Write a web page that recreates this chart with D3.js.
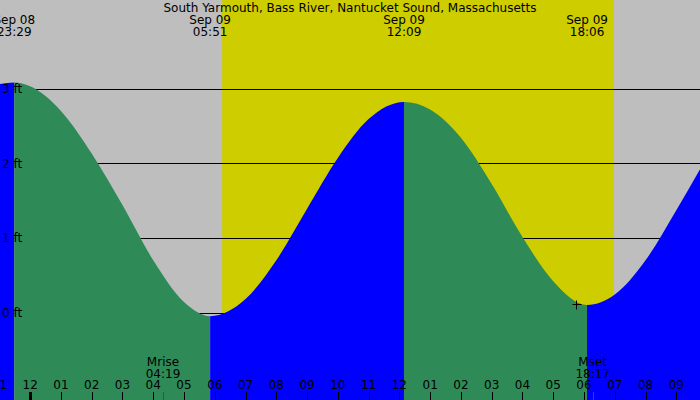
<!DOCTYPE html>
<html>
<head>
<meta charset="utf-8">
<script src="https://cdn.jsdelivr.net/npm/d3@7"></script>
<style>
body { margin: 0; background: #fff; }
svg { display: block; }
text { font-family: "DejaVu Sans", sans-serif; font-size: 12px; fill: #000; }
</style>
</head>
<body>
<svg id="chart" width="700" height="400"></svg>
<script>
// hours counted from Sep 09 00:00 (negative = Sep 08)
var tideHours = [-0.98, -0.517, 0, 1, 2, 3, 4, 5, 5.85, 7, 8, 9, 10, 11, 12.15, 13, 14, 15, 16, 17, 18.10, 19, 20, 21, 21.77];
var tideFeet  = [3.06, 3.08, 3.03, 2.70, 2.13, 1.44, 0.70, 0.14, -0.05, 0.18, 0.70, 1.39, 2.07, 2.59, 2.82, 2.72, 2.34, 1.72, 1.01, 0.42, 0.10, 0.24, 0.70, 1.37, 1.92];

// high / low tide times shown at the top
var extremeHours = [-0.517, 5.85, 12.15, 18.10];
var extremeDays  = ["Sep 08", "Sep 09", "Sep 09", "Sep 09"];
var extremeTimes = ["23:29", "05:51", "12:09", "18:06"];

var dayStart = 6.24, dayEnd = 18.97;

var moonHours  = [4.317, 18.283];
var moonNames  = ["Mrise", "Mset"];
var moonTimes  = ["04:19", "18:17"];

var footTicks = [0, 1, 2, 3];
var hourTicks = d3.range(-1, 22);

var nowHour = 17.74, nowFeet = 0.12;

var title = "South Yarmouth, Bass River, Nantucket Sound, Massachusetts";

var width = 700, height = 400;
var svg = d3.select("#chart");

var x = d3.scaleLinear().domain([-0.98, 21.77]).range([0, width]);
var y = d3.scaleLinear().domain([0, 3]).range([312.5, 88.5]);

// background + daylight
svg.append("rect").attr("width", width).attr("height", height).attr("fill", "#bebebe");
svg.append("rect")
	.attr("x", x(dayStart)).attr("y", 0)
	.attr("width", x(dayEnd) - x(dayStart)).attr("height", height)
	.attr("fill", "#cdcd00");

// grid lines behind the water
svg.selectAll(".grid")
	.data(footTicks)
	.enter()
	.append("line")
		.attr("class", "grid")
		.attr("x1", 0).attr("x2", width)
		.attr("y1", d => Math.round(y(d)) + 0.5)
		.attr("y2", d => Math.round(y(d)) + 0.5)
		.attr("stroke", "#000").attr("stroke-width", 1);

var pts = tideHours.map(function(h, i) { return [h, tideFeet[i]]; });
var area = d3.area()
	.x(d => x(d[0]))
	.y0(height)
	.y1(d => y(d[1]))
	.curve(d3.curveMonotoneX);

// split into rising (blue) / falling (green) pieces at each extreme
var cuts = [-0.98].concat(extremeHours, [21.77]);
var defs = svg.append("defs");
for (var i = 0; i < cuts.length - 1; i++) {
	defs.append("clipPath").attr("id", "seg" + i)
		.append("rect")
			.attr("x", x(cuts[i])).attr("y", 0)
			.attr("width", x(cuts[i + 1]) - x(cuts[i])).attr("height", height);
	svg.append("path")
		.datum(pts)
		.attr("d", area)
		.attr("clip-path", "url(#seg" + i + ")")
		.attr("fill", i % 2 == 0 ? "#0000ff" : "#2e8b57");
}

// foot labels
svg.selectAll(".ylab")
	.data(footTicks)
	.enter()
	.append("text")
		.attr("class", "ylab")
		.attr("x", 2)
		.attr("y", d => y(d) + 4.5)
		.text(d => d + " ft");

// title and tide times
svg.append("text")
	.attr("x", width / 2).attr("y", 12)
	.attr("text-anchor", "middle")
	.text(title);

extremeHours.forEach(function(h, i) {
	svg.append("text").attr("x", x(h)).attr("y", 24).attr("text-anchor", "middle").text(extremeDays[i]);
	svg.append("text").attr("x", x(h)).attr("y", 36).attr("text-anchor", "middle").text(extremeTimes[i]);
});

// hour ticks along the bottom
svg.selectAll(".htick")
	.data(hourTicks)
	.enter()
	.append("line")
		.attr("class", "htick")
		.attr("x1", d => Math.round(x(d)) + 0.5)
		.attr("x2", d => Math.round(x(d)) + 0.5)
		.attr("y1", 392).attr("y2", height)
		.attr("stroke", "#000")
		.attr("stroke-width", d => d == 0 ? 3 : 1);

svg.selectAll(".hlab")
	.data(hourTicks)
	.enter()
	.append("text")
		.attr("class", "hlab")
		.attr("x", d => x(d))
		.attr("y", 389)
		.attr("text-anchor", "middle")
		.text(function(d) {
			var hh = ((d % 12) + 12) % 12;
			if (hh == 0) hh = 12;
			return d3.format("02d")(hh);
		});

// moon rise / set
moonHours.forEach(function(h, i) {
	svg.append("line")
		.attr("x1", Math.round(x(h)) + 0.5).attr("x2", Math.round(x(h)) + 0.5)
		.attr("y1", 392).attr("y2", height)
		.attr("stroke", "#ff0000");
	svg.append("text").attr("x", x(h)).attr("y", 366).attr("text-anchor", "middle").text(moonNames[i]);
	svg.append("text").attr("x", x(h)).attr("y", 378).attr("text-anchor", "middle").text(moonTimes[i]);
});

// current time marker
var mx = Math.round(x(nowHour)) + 0.5, my = Math.round(y(nowFeet)) + 0.5;
svg.append("path")
	.attr("d", "M" + (mx - 4) + "," + my + "H" + (mx + 5) + "M" + mx + "," + (my - 4) + "V" + (my + 5))
	.attr("stroke", "#000").attr("stroke-width", 1);
</script>
</body>
</html>
